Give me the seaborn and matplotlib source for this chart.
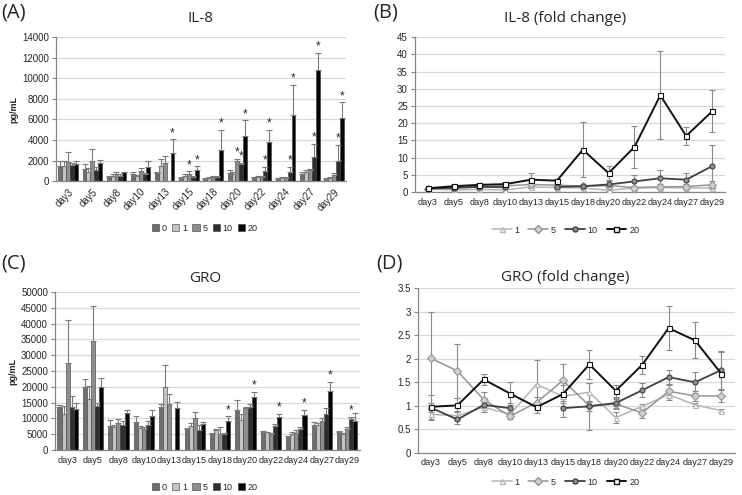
import numpy as np
import pandas as pd
import seaborn as sns
import matplotlib.pyplot as plt
from matplotlib.patches import Patch
from matplotlib.lines import Line2D

sns.set_style("white")
plt.rcParams['font.family'] = ['Liberation Sans', 'DejaVu Sans']

days = ['day3', 'day5', 'day8', 'day10', 'day13', 'day15', 'day18',
        'day20', 'day22', 'day24', 'day27', 'day29']
doses = ['0', '1', '5', '10', '20']
nan = np.nan

# IL-8 pg/mL
il8 = {
    '0':  [1500, 1150, 450, 650, 800, 350, 250, 800, 300, 250, 700, 250],
    '1':  [1450, 900, 500, 500, 1450, 550, 300, 700, 400, 350, 850, 350],
    '5':  [1850, 2000, 650, 1000, 1750, 650, 450, 1950, 400, 350, 1100, 600],
    '10': [1550, 1050, 550, 650, nan, 450, 400, 1650, 950, 900, 2350, 1950],
    '20': [1650, 1800, 850, 1400, 2750, 1100, 3050, 4400, 3850, 6400, 10800, 6100],
}
il8_err = {
    '0':  [450, 550, 100, 200, 100, 80, 50, 300, 60, 50, 200, 50],
    '1':  [500, 400, 150, 100, 750, 120, 60, 200, 80, 70, 250, 60],
    '5':  [950, 1150, 250, 250, 650, 300, 80, 250, 60, 60, 100, 150],
    '10': [200, 300, 100, 150, nan, 100, 60, 150, 450, 500, 1300, 1600],
    '20': [350, 300, 50, 600, 1300, 350, 1950, 1500, 1150, 2950, 1700, 1550],
}
il8_star = [(4, '20'), (5, '5'), (5, '20'), (6, '20'), (7, '5'), (7, '10'), (7, '20'),
            (8, '10'), (8, '20'), (9, '10'), (9, '20'), (10, '10'), (10, '20'),
            (11, '10'), (11, '20')]

# GRO pg/mL
gro = {
    '0':  [13700, 19800, 7600, 8700, 13500, 6500, 5100, 12800, 5800, 4300, 8000, 5600],
    '1':  [11400, 16000, 7300, 7000, 20000, 7600, 6400, 9600, 5600, 5200, 7800, 5000],
    '5':  [27500, 34400, 8400, 6700, 14500, 10000, 5000, 13400, 5000, 5400, 9300, 6700],
    '10': [13700, 13900, 7800, 8000, nan, 6200, 5100, 13700, 7500, 6600, 11500, 9900],
    '20': [13100, 20000, 11800, 10800, 13200, 8200, 9300, 16700, 10500, 11000, 18700, 9200],
}
gro_err = {
    '0':  [600, 2800, 1900, 1900, 1200, 500, 400, 3100, 200, 200, 700, 500],
    '1':  [2500, 4300, 700, 500, 7000, 900, 100, 1900, 200, 600, 700, 300],
    '5':  [13500, 11200, 1400, 500, 3200, 2000, 2400, 300, 500, 800, 800, 600],
    '10': [3300, 1100, 1300, 1100, nan, 1800, 400, 800, 700, 700, 1800, 600],
    '20': [1900, 2800, 900, 1900, 2100, 800, 1300, 1600, 1000, 1700, 2800, 2500],
}
gro_star = [(6, '20'), (7, '20'), (8, '20'), (9, '20'), (10, '20'), (11, '10')]

# fold change
fc_levels = ['1', '5', '10', '20']
il8_fc = {
    '1':  [0.9, 0.6, 0.8, 0.6, 1.5, 1.3, 1.2, 0.5, 1.2, 1.3, 1.2, 1.2],
    '5':  [1.0, 1.3, 1.6, 1.8, 2.2, 2.0, 1.7, 1.9, 1.3, 1.5, 1.6, 2.1],
    '10': [1.0, 1.2, 1.5, 1.4, nan, 1.5, 1.7, 2.2, 3.1, 4.0, 3.6, 7.5],
    '20': [1.1, 1.7, 2.1, 2.3, 3.6, 3.3, 12.3, 5.5, 13.1, 28.1, 16.3, 23.4],
}
il8_fc_err = {
    '1':  [0.1, 0.2, 0.2, 0.2, 0.4, 0.3, 0.2, 0.2, 0.2, 0.2, 0.3, 0.3],
    '5':  [0.2, 0.8, 0.3, 0.6, 1.0, 0.5, 0.3, 0.4, 0.5, 0.7, 0.6, 1.0],
    '10': [0.2, 0.3, 0.4, 0.5, nan, 0.3, 0.4, 1.0, 1.9, 2.3, 2.0, 6.1],
    '20': [0.3, 0.5, 0.4, 0.6, 1.9, 0.5, 8.0, 2.0, 6.0, 12.8, 2.7, 6.1],
}
gro_fc = {
    '1':  [0.82, 0.79, 0.97, 0.82, 1.46, 1.20, 1.29, 0.75, 0.99, 1.24, 1.02, 0.90],
    '5':  [2.01, 1.74, 1.13, 0.78, 1.07, 1.54, 1.00, 1.04, 0.85, 1.31, 1.21, 1.21],
    '10': [0.96, 0.71, 1.02, 0.95, nan, 0.95, 0.99, 1.06, 1.33, 1.61, 1.50, 1.76],
    '20': [0.98, 1.01, 1.56, 1.26, 0.97, 1.25, 1.88, 1.32, 1.87, 2.65, 2.39, 1.68],
}
gro_fc_err = {
    '1':  [0.12, 0.10, 0.10, 0.05, 0.52, 0.10, 0.20, 0.12, 0.05, 0.12, 0.03, 0.03],
    '5':  [0.99, 0.58, 0.17, 0.05, 0.12, 0.35, 0.10, 0.10, 0.10, 0.15, 0.10, 0.12],
    '10': [0.10, 0.10, 0.15, 0.10, nan, 0.19, 0.50, 0.10, 0.15, 0.16, 0.22, 0.40],
    '20': [0.26, 0.15, 0.12, 0.24, 0.12, 0.20, 0.31, 0.13, 0.19, 0.46, 0.38, 0.46],
}

bar_colors = {'0': '#6f6f6f', '1': '#c4c4c4', '5': '#8e8e8e', '10': '#2e2e2e', '20': '#050505'}
line_style = {
    '1':  dict(color='#b5b5b5', marker='^', mfc='white', lw=1.1),
    '5':  dict(color='#959595', marker='D', mfc='#d0d0d0', lw=1.1),
    '10': dict(color='#404040', marker='o', mfc='#909090', lw=1.3),
    '20': dict(color='#111111', marker='s', mfc='white', lw=1.4),
}

grid_c = '#d9d9d9'
spine_c = '#868686'


def style_axes(ax, xsize):
    ax.yaxis.grid(True, color=grid_c, lw=0.9)
    ax.set_axisbelow(True)
    for s in ['top', 'right']:
        ax.spines[s].set_visible(False)
    for s in ['left', 'bottom']:
        ax.spines[s].set_color(spine_c)
        ax.spines[s].set_linewidth(0.9)
    ax.tick_params(axis='y', labelsize=7, length=3, color=spine_c, direction='out', pad=2, left=True)
    ax.tick_params(axis='x', labelsize=xsize, length=0, pad=4)


def bar_panel(ax, vals, errs, stars, ymax, ystep, rot):
    df = pd.DataFrame([(d, k, vals[k][i]) for k in doses for i, d in enumerate(days)],
                      columns=['day', 'dose', 'value'])
    sns.barplot(data=df, x='day', y='value', hue='dose', order=days, hue_order=doses,
                palette=bar_colors, errorbar=None, width=0.8, saturation=1,
                edgecolor='#3a3a3a', linewidth=0.4, legend=False, ax=ax)
    tops = {}
    for cont, k in zip(ax.containers, doses):
        for bar in cont:
            xc = bar.get_x() + bar.get_width() / 2
            i = int(round(xc))
            h = bar.get_height()
            e = errs[k][i]
            if np.isnan(h) or np.isnan(e):
                continue
            ax.errorbar(xc, h, yerr=[[0], [e]], fmt='none', ecolor='#7a7a7a',
                        elinewidth=0.8, capsize=2.2, capthick=0.8)
            tops[(i, k)] = (xc, h + e)
    for key in stars:
        xc, top = tops[key]
        ax.text(xc, top + ymax * 0.002, '*', ha='center', va='bottom', fontsize=8.5)
    ax.set_ylim(0, ymax)
    ax.set_yticks(np.arange(0, ymax + 1, ystep))
    ax.set_xlim(-0.5, len(days) - 0.5)
    ax.set_xlabel('')
    ax.set_ylabel('pg/mL', fontsize=6.5, fontweight='bold', labelpad=3)
    style_axes(ax, 7 if rot else 6.6)
    if rot:
        plt.setp(ax.get_xticklabels(), rotation=45, ha='right', rotation_mode='anchor')
    handles = [Patch(facecolor=bar_colors[k], edgecolor='#3a3a3a', lw=0.4, label=k) for k in doses]
    return handles


def line_panel(ax, vals, errs, ymax, ystep, labels):
    x = np.arange(len(days))
    for k in fc_levels:
        st = line_style[k]
        v = np.array(vals[k], dtype=float)
        e = np.array(errs[k], dtype=float)
        ax.errorbar(x, v, yerr=e, fmt='none', ecolor='#8a8a8a', elinewidth=0.8,
                    capsize=2.2, capthick=0.8, zorder=2)
        ok = ~np.isnan(v)
        # draw each unbroken run so the line breaks at missing points
        runs = []
        cur = []
        for i in range(len(v)):
            if ok[i]:
                cur.append(i)
            else:
                if cur:
                    runs.append(cur)
                cur = []
        if cur:
            runs.append(cur)
        for r in runs:
            sub = pd.DataFrame({'x': x[r], 'y': v[r]})
            sns.lineplot(data=sub, x='x', y='y', color=st['color'], lw=st['lw'],
                         marker=st['marker'], markersize=3.6, markerfacecolor=st['mfc'],
                         markeredgecolor=st['color'], markeredgewidth=0.8, ax=ax, zorder=3)
    ax.set_ylim(0, ymax)
    ax.set_yticks(np.arange(0, ymax + 1e-9, ystep))
    ax.set_yticklabels(labels)
    ax.set_xlim(-0.5, len(days) - 0.5)
    ax.set_xticks(x)
    ax.set_xticklabels(days)
    ax.set_xlabel('')
    ax.set_ylabel('')
    style_axes(ax, 6.6)
    handles = [Line2D([0], [0], color=line_style[k]['color'], lw=line_style[k]['lw'],
                      marker=line_style[k]['marker'], markersize=3.6,
                      markerfacecolor=line_style[k]['mfc'],
                      markeredgecolor=line_style[k]['color'], label=k) for k in fc_levels]
    return handles


fig = plt.figure(figsize=(7.42, 4.95), dpi=100)
axA = fig.add_axes([0.0755, 0.634, 0.391, 0.291])
axB = fig.add_axes([0.559, 0.612, 0.418, 0.313])
axC = fig.add_axes([0.074, 0.091, 0.411, 0.319])
axD = fig.add_axes([0.563, 0.085, 0.427, 0.333])

hA = bar_panel(axA, il8, il8_err, il8_star, 14000, 2000, True)
hC = bar_panel(axC, gro, gro_err, gro_star, 50000, 5000, False)
hB = line_panel(axB, il8_fc, il8_fc_err, 45, 5, [str(v) for v in range(0, 46, 5)])
hD = line_panel(axD, gro_fc, gro_fc_err, 3.5, 0.5,
                ['0', '0.5', '1', '1.5', '2', '2.5', '3', '3.5'])

title_font = dict(family=['Open Sans', 'DejaVu Sans'], fontsize=11)
fig.text(0.27, 0.963, 'IL-8', ha='center', va='center', **title_font)
fig.text(0.762, 0.963, 'IL-8 (fold change)', ha='center', va='center', **title_font)
fig.text(0.277, 0.438, 'GRO', ha='center', va='center', **title_font)
fig.text(0.762, 0.44, 'GRO (fold change)', ha='center', va='center', **title_font)

lab_font = dict(family=['Open Sans', 'DejaVu Sans'], fontsize=14.5)
fig.text(0.002, 0.975, '(A)', ha='left', va='center', **lab_font)
fig.text(0.503, 0.975, '(B)', ha='left', va='center', **lab_font)
fig.text(0.002, 0.468, '(C)', ha='left', va='center', **lab_font)
fig.text(0.507, 0.468, '(D)', ha='left', va='center', **lab_font)

leg_kw = dict(ncol=5, frameon=False, fontsize=6.5, handlelength=0.8, handleheight=0.8,
              handletextpad=0.3, columnspacing=0.6, loc='center')
fig.legend(handles=hA, bbox_to_anchor=(0.276, 0.539), **leg_kw)
fig.legend(handles=hC, bbox_to_anchor=(0.276, 0.016), **leg_kw)
leg_kw2 = dict(leg_kw, ncol=4, handlelength=2.2, columnspacing=1.0)
fig.legend(handles=hB, bbox_to_anchor=(0.762, 0.535), **leg_kw2)
fig.legend(handles=hD, bbox_to_anchor=(0.762, 0.026), **leg_kw2)

fig.savefig('out.png', dpi=100)
